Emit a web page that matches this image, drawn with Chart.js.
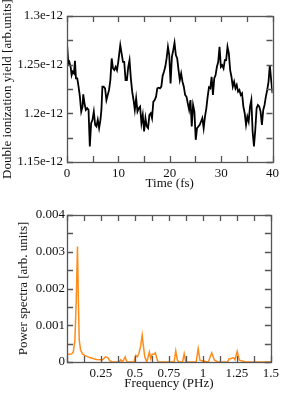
<!DOCTYPE html>
<html><head><meta charset="utf-8">
<script src="https://cdn.jsdelivr.net/npm/chart.js@4.4.1/dist/chart.umd.min.js"></script>
<style>html,body{margin:0;padding:0;background:#fff;}#wrap{position:relative;width:283px;height:393px;}canvas{position:absolute;left:0;}</style>
</head><body><div id="wrap"><canvas id="c1" width="283" height="196" style="top:0"></canvas><canvas id="c2" width="283" height="197" style="top:196px"></canvas></div>
<script>
// ---- Top panel: double ionization yield vs time ----
const timeFs = [0,0.26,0.45,0.71,0.90,1.10,1.35,1.55,1.74,2.00,2.25,2.51,2.77,3.03,3.16,3.41,3.67,3.93,4.19,4.44,4.70,4.96,5.22,5.48,5.73,5.99,6.25,6.51,6.70,6.89,7.15,7.41,7.67,7.92,8.18,8.44,8.70,8.95,9.21,9.47,9.73,9.98,10.37,10.63,10.89,11.14,11.40,11.66,11.92,12.17,12.43,12.69,12.95,13.20,13.46,13.72,13.98,14.23,14.49,14.75,15.01,15.27,15.52,15.78,16.04,16.30,16.55,16.81,17.07,17.33,17.58,17.84,18.10,18.36,18.61,18.87,19.13,19.39,19.65,19.90,20.16,20.42,20.68,20.93,21.19,21.45,21.71,21.96,22.22,22.48,22.74,22.99,23.25,23.51,23.77,24.03,24.28,24.54,24.80,25.06,25.31,25.57,25.83,26.09,26.34,26.60,26.86,27.12,27.38,27.63,27.89,28.15,28.41,28.66,28.92,29.18,29.44,29.69,29.95,30.21,30.47,30.72,30.98,31.24,31.50,31.76,32.01,32.27,32.53,32.79,33.04,33.30,33.56,33.82,34.07,34.33,34.59,34.85,35.10,35.36,35.62,35.88,36.13,36.39,36.65,36.91,37.16,37.42,37.68,37.94,38.20,38.45,38.71,38.97,39.23,39.48,39.74,40.00];
const yieldValues = [
1.2717e-12,1.2512e-12,1.2529e-12,1.2478e-12,1.2393e-12,1.2427e-12,1.2410e-12,1.2540e-12,1.2359e-12,1.2359e-12,
1.2274e-12,1.2171e-12,1.2018e-12,1.2069e-12,1.2195e-12,1.2103e-12,1.2035e-12,1.2052e-12,1.2035e-12,1.1660e-12,
1.1899e-12,1.1933e-12,1.2018e-12,1.1882e-12,1.1865e-12,1.1933e-12,1.1848e-12,1.1933e-12,1.2035e-12,1.2274e-12,
1.2274e-12,1.2257e-12,1.2137e-12,1.2189e-12,1.2240e-12,1.2342e-12,1.2564e-12,1.2461e-12,1.2444e-12,1.2478e-12,
1.2444e-12,1.2529e-12,1.2700e-12,1.2615e-12,1.2529e-12,1.2529e-12,1.2342e-12,1.2342e-12,1.2478e-12,1.2547e-12,
1.2359e-12,1.2223e-12,1.2137e-12,1.2035e-12,1.2154e-12,1.2018e-12,1.2052e-12,1.2069e-12,1.1899e-12,1.1984e-12,
1.1813e-12,1.1950e-12,1.1865e-12,1.1848e-12,1.1984e-12,1.2001e-12,1.1950e-12,1.2120e-12,1.2137e-12,1.2171e-12,
1.2257e-12,1.2264e-12,1.2257e-12,1.2274e-12,1.2383e-12,1.2427e-12,1.2478e-12,1.2564e-12,1.2683e-12,1.2598e-12,
1.2308e-12,1.2581e-12,1.2649e-12,1.2724e-12,1.2598e-12,1.2564e-12,1.2444e-12,1.2342e-12,1.2410e-12,1.2325e-12,
1.2274e-12,1.2189e-12,1.2171e-12,1.2103e-12,1.2035e-12,1.2137e-12,1.1865e-12,1.2086e-12,1.2018e-12,1.1728e-12,
1.1848e-12,1.1865e-12,1.1882e-12,1.1916e-12,1.1950e-12,1.1848e-12,1.1967e-12,1.2052e-12,1.2171e-12,1.2267e-12,
1.2257e-12,1.2376e-12,1.2189e-12,1.2359e-12,1.2393e-12,1.2478e-12,1.2529e-12,1.2683e-12,1.2478e-12,1.2495e-12,
1.2461e-12,1.2547e-12,1.2547e-12,1.2683e-12,1.2615e-12,1.2444e-12,1.2376e-12,1.2274e-12,1.2325e-12,1.2257e-12,
1.2291e-12,1.2223e-12,1.2240e-12,1.2189e-12,1.2206e-12,1.2069e-12,1.2001e-12,1.1882e-12,1.1967e-12,1.1916e-12,
1.2069e-12,1.2137e-12,1.1813e-12,1.1660e-12,1.1831e-12,1.2052e-12,1.2086e-12,1.2069e-12,1.2018e-12,1.1882e-12,
1.2035e-12,1.2086e-12,1.2171e-12,1.2240e-12,1.2325e-12,1.2495e-12,1.2342e-12,1.2206e-12];
const topXTicks = [0,10,20,30,40];
const topXLabels = ['0','10','20','30','40'];
const topXMinor = [5,15,25,35];
const topYTicks = [1.15e-12,1.2e-12,1.25e-12,1.3e-12];
const topYLabels = ['1.15e-12','1.2e-12','1.25e-12','1.3e-12'];
const topYMinor = [1.175e-12,1.225e-12,1.275e-12];

// ---- Bottom panel: power spectrum ----
const freqPHz = [0,0.02,0.034,0.046,0.058,0.068,0.077,0.084,0.090,0.100,0.115,0.130,0.167,0.215,0.263,0.283,0.300,0.316,0.336,0.384,0.396,0.408,0.428,0.440,0.493,0.505,0.517,0.529,0.541,0.553,0.563,0.572,0.587,0.606,0.616,0.626,0.640,0.650,0.662,0.669,0.788,0.800,0.812,0.824,0.850,0.862,0.874,0.950,0.965,0.978,1.0,1.04,1.065,1.085,1.11,1.181,1.193,1.205,1.225,1.236,1.252,1.268,1.290,1.314,1.5];
const power = [0.00021,0.00021,0.00022,0.00027,0.00059,0.00168,0.00314,0.0016,0.0006,0.00032,0.00022,0.00018,0.00012,0.00007,0.00006,0.00014,0.00012,0.00003,0,0,0.00006,0,0.00014,0,0,0.00018,0.00014,0.00023,0.00041,0.00073,0.00041,0.00014,0,0.00027,0.00009,0.00021,0.00021,0.00025,0.00009,0,0,0.0003,0.00005,0,0,0.00022,0,0,0.00036,0.00005,0.00003,0,0.00025,0.00005,0,0,0.00009,0.00009,0.00012,0.00006,0.00029,0.00005,0.00003,0,0];
const botXTicks = [0,0.25,0.5,0.75,1,1.25,1.5];
const botXLabels = ['','0.25','0.5','0.75','1','1.25','1.5'];
const botXMinor = [0.125,0.375,0.625,0.875,1.125,1.375];
const botYTicks = [0,0.001,0.002,0.003,0.004];
const botYLabels = ['0','0.001','0.002','0.003','0.004'];
const botYMinor = [0.0005,0.0015,0.0025,0.0035];

Chart.defaults.font.family = "'Liberation Serif','DejaVu Serif',serif";
Chart.defaults.font.size = 13;
Chart.defaults.color = '#111';

const framePlugin = {
  id: 'frame',
  afterDatasetsDraw(chart, args, o) {
    const {ctx, chartArea: a, scales: {x, y}} = chart;
    ctx.save();
    ctx.strokeStyle = '#555';
    ctx.lineWidth = 1.3;
    ctx.beginPath();
    const L = 6;
    o.xt.concat(o.xm).forEach(v => {
      const p = Math.round(x.getPixelForValue(v)) + 0.5;
      ctx.moveTo(p, a.bottom); ctx.lineTo(p, a.bottom - L);
      ctx.moveTo(p, a.top); ctx.lineTo(p, a.top + L);
    });
    o.yt.concat(o.ym).forEach(v => {
      const p = Math.round(y.getPixelForValue(v)) + 0.5;
      ctx.moveTo(a.left, p); ctx.lineTo(a.left + L, p);
      ctx.moveTo(a.right, p); ctx.lineTo(a.right - L, p);
    });
    ctx.stroke();
    ctx.strokeRect(Math.round(a.left) + 0.5, Math.round(a.top) + 0.5, Math.round(a.right - a.left), Math.round(a.bottom - a.top));
    ctx.restore();
  }
};

function makeChart(id, xs, ys, color, lw, cfg) {
  return new Chart(document.getElementById(id), {
    type: 'line',
    data: { datasets: [{ data: xs.map((v, i) => ({x: v, y: ys[i]})), borderColor: color, borderWidth: lw, pointRadius: 0, tension: 0, fill: false }] },
    options: {
      responsive: false, animation: false, devicePixelRatio: 1,
      layout: { padding: cfg.pad },
      plugins: { legend: {display: false}, tooltip: {enabled: false}, frame: {xt: cfg.xt, xm: cfg.xm, yt: cfg.yt, ym: cfg.ym} },
      scales: {
        x: {
          type: 'linear', min: cfg.xmin, max: cfg.xmax,
          grid: {display: false, drawTicks: false}, border: {display: false},
          afterBuildTicks: s => { s.ticks = cfg.xt.map(v => ({value: v})); },
          afterFit: s => { s.height = cfg.xh; },
          ticks: { padding: cfg.xpad, maxRotation: 0, autoSkip: false, callback: (v, i) => cfg.xl[i] },
          title: { display: true, text: cfg.xtitle, font: {size: 13}, padding: {top: 0, bottom: cfg.xtpad} }
        },
        y: {
          type: 'linear', min: cfg.ymin, max: cfg.ymax,
          grid: {display: false, drawTicks: false}, border: {display: false},
          afterBuildTicks: s => { s.ticks = cfg.yt.map(v => ({value: v})); },
          afterFit: s => { s.width = 67; },
          ticks: { padding: cfg.ypad, autoSkip: false, callback: (v, i) => cfg.yl[i] },
          title: { display: true, text: cfg.ytitle, font: {size: 13}, padding: {top: cfg.ytpad, bottom: 0} }
        }
      }
    },
    plugins: [framePlugin]
  });
}

makeChart('c1', timeFs, yieldValues, '#000', 1.8, {
  pad: {left: 0, right: 9, top: 16, bottom: 0},
  xmin: 0, xmax: 40, ymin: 1.15e-12, ymax: 1.3e-12,
  xt: topXTicks, xl: topXLabels, xm: topXMinor, yt: topYTicks, yl: topYLabels, ym: topYMinor,
  xh: 34, xpad: 4, xtpad: 5, ypad: 4, ytpad: 0,
  xtitle: 'Time (fs)', ytitle: 'Double ionization yield [arb.units]'
});
makeChart('c2', freqPHz, power, '#ff8c1a', 1.5, {
  pad: {left: 0, right: 9, top: 19, bottom: 0},
  xmin: 0, xmax: 1.5, ymin: 0, ymax: 0.004,
  xt: botXTicks, xl: botXLabels, xm: botXMinor, yt: botYTicks, yl: botYLabels, ym: botYMinor,
  xh: 31, xpad: 4, xtpad: 2, ypad: 2, ytpad: 16,
  xtitle: 'Frequency (PHz)', ytitle: 'Power spectra [arb. units]'
});
</script></body></html>
